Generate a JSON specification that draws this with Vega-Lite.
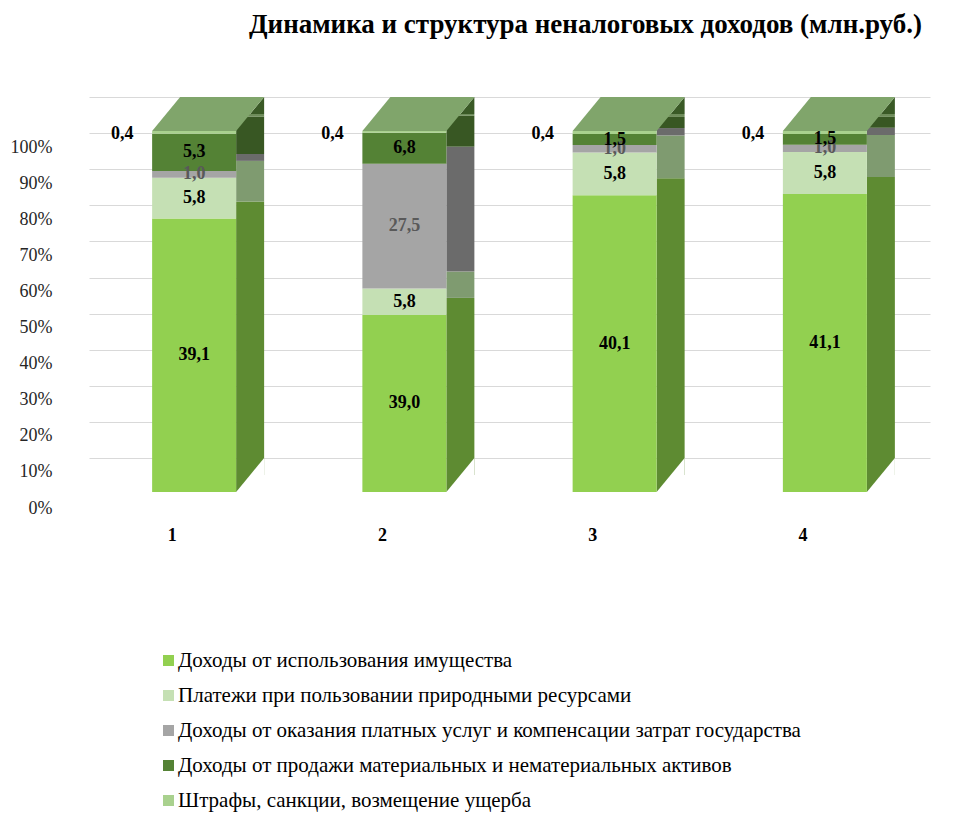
{
  "$schema": "https://vega.github.io/schema/vega-lite/v6.json",
  "width": 841,
  "height": 361,
  "autosize": {"type": "none"},
  "padding": {"left": 89, "top": 131, "right": 50, "bottom": 334},
  "background": "white",
  "config": {
    "view": {"stroke": null},
    "font": "Liberation Serif",
    "locale": {"number": {"decimal": ",", "thousands": " ", "grouping": [3], "currency": ["", ""]}},
    "axisY": {
      "title": null,
      "domain": false,
      "ticks": false,
      "grid": true,
      "gridColor": "#D9D9D9",
      "gridWidth": 1,
      "tickOffset": -34,
      "labelOffset": 50,
      "labelPadding": 37,
      "labelFont": "Liberation Serif",
      "labelFontSize": 18,
      "labelColor": "#262626",
      "labelOverlap": false
    }
  },
  "title": {
    "text": "Динамика и структура неналоговых доходов (млн.руб.)",
    "font": "Liberation Serif",
    "fontSize": 27,
    "fontWeight": "bold",
    "color": "black",
    "anchor": "middle",
    "dx": 76,
    "offset": 58
  },
  "data": {
    "values": [
      {"cat": "1", "k": 1, "series": "Доходы от использования имущества", "value": 39.1},
      {"cat": "1", "k": 2, "series": "Платежи при пользовании природными ресурсами", "value": 5.8},
      {"cat": "1", "k": 3, "series": "Доходы от оказания платных услуг и компенсации затрат государства", "value": 1.0},
      {"cat": "1", "k": 4, "series": "Доходы от продажи материальных и нематериальных активов", "value": 5.3},
      {"cat": "1", "k": 5, "series": "Штрафы, санкции, возмещение ущерба", "value": 0.4},
      {"cat": "2", "k": 1, "series": "Доходы от использования имущества", "value": 39.0},
      {"cat": "2", "k": 2, "series": "Платежи при пользовании природными ресурсами", "value": 5.8},
      {"cat": "2", "k": 3, "series": "Доходы от оказания платных услуг и компенсации затрат государства", "value": 27.5},
      {"cat": "2", "k": 4, "series": "Доходы от продажи материальных и нематериальных активов", "value": 6.8},
      {"cat": "2", "k": 5, "series": "Штрафы, санкции, возмещение ущерба", "value": 0.4},
      {"cat": "3", "k": 1, "series": "Доходы от использования имущества", "value": 40.1},
      {"cat": "3", "k": 2, "series": "Платежи при пользовании природными ресурсами", "value": 5.8},
      {"cat": "3", "k": 3, "series": "Доходы от оказания платных услуг и компенсации затрат государства", "value": 1.0},
      {"cat": "3", "k": 4, "series": "Доходы от продажи материальных и нематериальных активов", "value": 1.5},
      {"cat": "3", "k": 5, "series": "Штрафы, санкции, возмещение ущерба", "value": 0.4},
      {"cat": "4", "k": 1, "series": "Доходы от использования имущества", "value": 41.1},
      {"cat": "4", "k": 2, "series": "Платежи при пользовании природными ресурсами", "value": 5.8},
      {"cat": "4", "k": 3, "series": "Доходы от оказания платных услуг и компенсации затрат государства", "value": 1.0},
      {"cat": "4", "k": 4, "series": "Доходы от продажи материальных и нематериальных активов", "value": 1.5},
      {"cat": "4", "k": 5, "series": "Штрафы, санкции, возмещение ущерба", "value": 0.4}
    ]
  },
  "transform": [
    {"stack": "value", "groupby": ["cat"], "sort": [{"field": "k", "order": "ascending"}], "offset": "normalize", "as": ["y0", "y1"]},
    {"calculate": "(datum.y0 + datum.y1) / 2", "as": "ym"}
  ],
  "encoding": {
    "x": {
      "field": "cat",
      "type": "nominal",
      "scale": {"paddingInner": 0, "paddingOuter": 0},
      "axis": {
        "title": null,
        "labelAngle": 0,
        "domain": false,
        "ticks": false,
        "labelFont": "Liberation Serif",
        "labelFontSize": 18,
        "labelFontWeight": "bold",
        "labelColor": "black",
        "labelOffset": -22,
        "labelPadding": 34
      }
    }
  },
  "layer": [
    {
      "mark": {"type": "bar", "width": 28, "xOffset": 56, "yOffset": -17, "y2Offset": -17},
      "encoding": {
        "y": {
          "field": "y1",
          "type": "quantitative",
          "scale": {"domain": [0, 1]},
          "axis": {"format": ".0%", "values": [0, 0.1, 0.2, 0.3, 0.4, 0.5, 0.6, 0.7, 0.8, 0.9, 1]}
        },
        "y2": {"field": "y0"},
        "fill": {
          "field": "k",
          "type": "ordinal",
          "legend": null,
          "scale": {
            "domain": [1, 2, 3, 4, 5],
            "range": ["#5E8B32", "#7F9B70", "#6B6B6B", "#385723", "#6E8C5A"]
          }
        }
      }
    },
    {
      "transform": [{"filter": "datum.k === 5"}],
      "mark": {"type": "point", "shape": "M 56 -17 L 70 -34 L 70 -17 Z", "size": 4, "filled": true, "opacity": 1, "strokeWidth": 0, "color": "#3A5A26"},
      "encoding": {"y": {"datum": 1, "type": "quantitative", "axis": {"format": ".0%", "values": [0, 0.1, 0.2, 0.3, 0.4, 0.5, 0.6, 0.7, 0.8, 0.9, 1]}}}
    },
    {
      "transform": [{"filter": "datum.k === 5"}],
      "mark": {"type": "point", "shape": "M 42 0 L 42 -17 L 56 -17 Z", "size": 4, "filled": true, "opacity": 1, "strokeWidth": 0, "color": "#5E8B32"},
      "encoding": {"y": {"datum": 0, "type": "quantitative", "axis": {"format": ".0%", "values": [0, 0.1, 0.2, 0.3, 0.4, 0.5, 0.6, 0.7, 0.8, 0.9, 1]}}}
    },
    {
      "transform": [{"filter": "datum.k === 5"}],
      "mark": {"type": "point", "shape": "M 56 -17 L 70 -17 L 70 -34 Z", "size": 4, "filled": true, "opacity": 1, "strokeWidth": 0, "color": "white"},
      "encoding": {"y": {"datum": 0, "type": "quantitative", "axis": {"format": ".0%", "values": [0, 0.1, 0.2, 0.3, 0.4, 0.5, 0.6, 0.7, 0.8, 0.9, 1]}}}
    },
    {
      "transform": [{"filter": "datum.k === 5"}],
      "mark": {"type": "point", "shape": "M -42 0 L 42 0 L 70 -34 L -14 -34 Z", "size": 4, "filled": true, "opacity": 1, "strokeWidth": 0, "color": "#80A56B"},
      "encoding": {"y": {"datum": 1, "type": "quantitative", "axis": {"format": ".0%", "values": [0, 0.1, 0.2, 0.3, 0.4, 0.5, 0.6, 0.7, 0.8, 0.9, 1]}}}
    },
    {
      "mark": {"type": "bar", "width": 84},
      "encoding": {
        "y": {"field": "y1", "type": "quantitative", "axis": {"format": ".0%", "values": [0, 0.1, 0.2, 0.3, 0.4, 0.5, 0.6, 0.7, 0.8, 0.9, 1]}},
        "y2": {"field": "y0"},
        "color": {
          "field": "series",
          "type": "nominal",
          "scale": {
            "domain": ["Доходы от использования имущества", "Платежи при пользовании природными ресурсами", "Доходы от оказания платных услуг и компенсации затрат государства", "Доходы от продажи материальных и нематериальных активов", "Штрафы, санкции, возмещение ущерба"],
            "range": ["#92D050", "#C5E0B4", "#A5A5A5", "#548235", "#A9D18E"]
          },
          "legend": {
            "title": null,
            "orient": "none",
            "legendX": 69,
            "legendY": 519,
            "direction": "vertical",
            "symbolType": "square",
            "symbolSize": 121,
            "symbolStrokeWidth": 0,
            "labelFont": "Liberation Serif",
            "labelFontSize": 21,
            "labelColor": "black",
            "labelLimit": 0,
            "rowPadding": 13,
            "labelOffset": -1
          }
        }
      }
    },
    {
      "transform": [{"filter": "datum.k !== 5"}],
      "mark": {"type": "text", "font": "Liberation Serif", "fontSize": 18, "fontWeight": "bold", "baseline": "middle", "align": "center"},
      "encoding": {
        "y": {"field": "ym", "type": "quantitative", "axis": {"format": ".0%", "values": [0, 0.1, 0.2, 0.3, 0.4, 0.5, 0.6, 0.7, 0.8, 0.9, 1]}},
        "text": {"field": "value", "type": "quantitative", "format": ".1f"},
        "color": {"condition": {"test": "datum.k === 3", "value": "#595959"}, "value": "black"}
      }
    },
    {
      "transform": [{"filter": "datum.k === 5"}],
      "mark": {"type": "text", "font": "Liberation Serif", "fontSize": 18, "fontWeight": "bold", "baseline": "middle", "align": "center", "dx": -72, "dy": 2, "color": "black"},
      "encoding": {
        "y": {"field": "ym", "type": "quantitative", "axis": {"format": ".0%", "values": [0, 0.1, 0.2, 0.3, 0.4, 0.5, 0.6, 0.7, 0.8, 0.9, 1]}},
        "text": {"field": "value", "type": "quantitative", "format": ".1f"}
      }
    }
  ]
}
